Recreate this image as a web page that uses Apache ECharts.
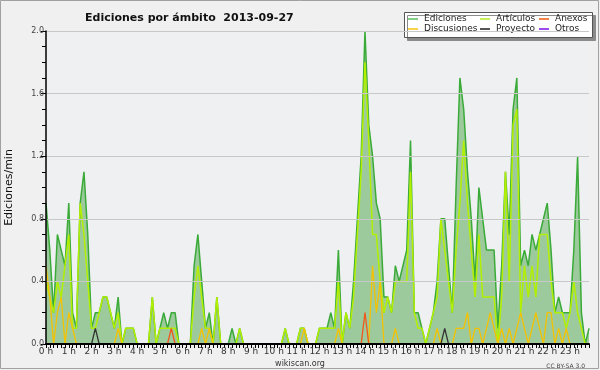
<!DOCTYPE html>
<html>
<head>
<meta charset="utf-8">
<script src="https://cdn.jsdelivr.net/npm/echarts@6/dist/echarts.min.js"></script>
<style>
html,body{margin:0;padding:0;background:#f0f0f0;}
#chart{width:600px;height:370px;}
</style>
</head>
<body>
<div id="chart"></div>
<script>
// ---- data (values per 10-minute slot, edits/min) ----
const hourLabels = ['0 h','1 h','2 h','3 h','4 h','5 h','6 h','7 h','8 h','9 h','10 h','11 h',
  '12 h','13 h','14 h','15 h','16 h','17 h','18 h','19 h','20 h','21 h','22 h','23 h'];
const yTickLabels = ['0.0','0.4','0.8','1.2','1.6','2.0'];

const ediciones = [
 0.9,0.6,0.2,0.7,0.6,0.5, 0.9,0.2,0.1,0.9,1.1,0.7, 0.1,0.2,0.2,0.3,0.3,0.2, 0.1,0.3,0,0.1,0.1,0.1,
 0,0,0,0,0.3,0, 0.1,0.2,0.1,0.2,0.2,0, 0,0,0,0.5,0.7,0.4, 0.1,0.2,0,0.3,0,0,
 0,0.1,0,0.1,0,0, 0,0,0,0,0,0, 0,0,0,0.1,0,0, 0,0.1,0.1,0,0,0,
 0.1,0.1,0.1,0.2,0.1,0.6, 0,0.2,0.1,0.4,0.8,1.2, 2.0,1.4,1.2,0.9,0.8,0.3, 0.3,0.2,0.5,0.4,0.5,0.6,
 1.3,0.2,0.2,0.1,0,0.1, 0.2,0.4,0.8,0.8,0.5,0.2, 1.0,1.7,1.5,1.1,0.8,0.4, 1.0,0.8,0.6,0.6,0.6,0.1,
 0.5,1.1,0.7,1.5,1.7,0.5, 0.6,0.5,0.7,0.6,0.7,0.8, 0.9,0.6,0.2,0.3,0.2,0.2, 0.2,0.6,1.2,0.2,0,0.1
];
const articulos = [
 0.4,0.3,0.2,0.4,0.3,0.5, 0.7,0.1,0.1,0.9,0.7,0.4, 0.1,0.1,0.2,0.3,0.3,0.2, 0.1,0.2,0,0.1,0.1,0.1,
 0,0,0,0,0.3,0, 0.1,0.1,0.1,0.1,0.1,0, 0,0,0,0.3,0.5,0.3, 0.1,0.1,0,0.3,0,0,
 0,0,0,0.1,0,0, 0,0,0,0,0,0, 0,0,0,0.1,0,0, 0,0.1,0.1,0,0,0,
 0.1,0.1,0.1,0.1,0.1,0.4, 0,0.2,0.1,0.3,0.7,1.1, 1.8,1.3,0.7,0.7,0.4,0.2, 0.3,0.2,0.4,0.4,0.4,0.4,
 1.1,0.2,0.1,0.1,0,0.1, 0.2,0.3,0.8,0.6,0.4,0.2, 0.6,0.9,1.3,0.9,0.6,0.3, 0.7,0.3,0.3,0.3,0.3,0,
 0.3,1.1,0.4,1.4,1.5,0.2, 0.5,0.3,0.5,0.3,0.7,0.7, 0.7,0.4,0.2,0.2,0.2,0.1, 0.2,0.4,0.2,0.1,0,0
];
const discusiones = [
 0.5,0.3,0,0.2,0.3,0, 0.2,0.1,0,0,0,0, 0,0,0,0,0,0, 0,0.1,0,0,0,0,
 0,0,0,0,0,0, 0,0,0,0,0,0, 0,0,0,0,0,0.1, 0,0.1,0,0,0,0,
 0,0,0,0,0,0, 0,0,0,0,0,0, 0,0,0,0,0,0, 0,0,0.1,0,0,0,
 0,0,0,0,0,0.1, 0,0,0,0,0,0, 0,0,0.5,0.2,0.4,0, 0,0,0.1,0,0,0,
 0,0,0,0,0,0, 0,0.1,0,0,0,0, 0.1,0.1,0.1,0.2,0,0.1, 0.1,0,0.1,0.2,0.1,0,
 0.1,0,0.1,0,0.1,0.2, 0.1,0,0.1,0.2,0.1,0, 0.2,0.2,0,0.1,0,0.1, 0,0,0,0,0,0
];
const proyecto = [
 0,0,0,0,0,0, 0,0,0,0,0,0, 0,0.1,0,0,0,0, 0,0,0,0,0,0,
 0,0,0,0,0,0, 0,0,0,0,0,0, 0,0,0,0,0,0, 0,0,0,0,0,0,
 0,0,0,0,0,0, 0,0,0,0,0,0, 0,0,0,0,0,0, 0,0,0,0,0,0,
 0,0,0,0,0,0, 0,0,0,0,0,0, 0,0,0,0,0,0, 0,0,0,0,0,0,
 0,0,0,0,0,0, 0,0,0,0.1,0,0, 0,0,0,0,0,0, 0,0,0,0,0,0,
 0,0,0,0,0,0, 0,0,0,0,0,0, 0,0,0,0,0,0, 0,0,0,0,0,0
];
const anexos = [
 0,0,0,0,0,0, 0,0,0,0,0,0, 0,0,0,0,0,0, 0,0,0,0,0,0,
 0,0,0,0,0,0, 0,0,0,0.1,0,0, 0,0,0,0,0,0, 0,0,0,0,0,0,
 0,0,0,0,0,0, 0,0,0,0,0,0, 0,0,0,0,0,0, 0,0,0,0,0,0,
 0,0,0,0,0,0, 0,0,0,0,0,0, 0.2,0,0,0,0,0, 0,0,0,0,0,0,
 0,0,0,0,0,0, 0,0,0,0,0,0, 0,0,0,0,0,0, 0,0,0,0,0,0,
 0,0,0,0,0,0, 0,0,0,0,0,0, 0,0,0,0,0,0, 0,0,0,0,0,0
];
const otros = [
 0,0,0,0,0,0, 0,0,0,0,0,0, 0,0,0,0,0,0, 0,0,0,0,0,0,
 0,0,0,0,0,0, 0,0,0,0,0,0, 0,0,0,0,0,0, 0,0,0,0,0,0,
 0,0,0,0,0,0, 0,0,0,0,0,0, 0,0,0,0,0,0, 0,0,0,0,0,0,
 0,0,0,0,0,0, 0,0,0,0,0,0, 0,0,0,0,0,0, 0,0,0,0,0,0,
 0,0,0,0,0,0, 0,0,0,0,0,0, 0,0,0,0,0,0, 0,0,0,0,0,0,
 0,0,0,0,0,0, 0,0,0,0,0,0, 0,0,0,0,0,0, 0,0,0,0,0,0
];

// category per 10-minute slot
const categories = [];
for (let h = 0; h < 24; h++) for (let m = 0; m < 6; m++) categories.push(h + ':' + m + '0');

const FONT = 'DejaVu Sans';
const chart = echarts.init(document.getElementById('chart'), null, {renderer: 'canvas'});

function lineSeries(name, data, color, width, extra) {
  return Object.assign({
    name: name, type: 'line', data: data, symbol: 'none', smooth: false,
    lineStyle: {color: color, width: width}, itemStyle: {color: color},
    emphasis: {disabled: true}, z: 2
  }, extra || {});
}

const legendCommon = {
  orient: 'vertical', top: 14, itemWidth: 10, itemHeight: 2, itemGap: 0, icon: 'rect',
  textStyle: {fontFamily: FONT, fontSize: 9, color: '#222', lineHeight: 10, padding: [0,0,0,1]},
  padding: 0, selectedMode: false
};

chart.setOption({
  animation: false,
  backgroundColor: '#f0f0f0',
  title: [
    {text: 'Ediciones por ámbito  2013-09-27', left: 80, top: 8,
     textStyle: {fontFamily: FONT, fontSize: 11, fontWeight: 'bold', color: '#111'}},
    {text: 'wikiscan.org', left: 'center', top: 355,
     textStyle: {fontFamily: FONT, fontSize: 8, fontWeight: 'normal', color: '#333'}},
    {text: 'CC BY-SA 3.0', right: 10, top: 358,
     textStyle: {fontFamily: FONT, fontSize: 6, fontWeight: 'normal', color: '#444'}}
  ],
  graphic: [
    {type: 'rect', z: 0, silent: true, shape: {x: 0.5, y: 0.5, width: 598, height: 368},
     style: {fill: 'none', stroke: '#a0a0a0', lineWidth: 1}},
    {type: 'rect', z: 3, silent: true, shape: {x: 404.5, y: 12.5, width: 188, height: 25},
     style: {fill: '#ffffff', stroke: '#555', lineWidth: 1,
             shadowColor: '#8a8a8a', shadowOffsetX: 3, shadowOffsetY: 3, shadowBlur: 0}}
  ],
  legend: [
    Object.assign({}, legendCommon, {left: 408, data: [
      {name: 'Ediciones', itemStyle: {color: '#86cf86'}},
      {name: 'Discusiones', itemStyle: {color: '#f7d24a'}}]}),
    Object.assign({}, legendCommon, {left: 480, data: [
      {name: 'Artículos', itemStyle: {color: '#c6f05a'}},
      {name: 'Proyecto', itemStyle: {color: '#555555'}}]}),
    Object.assign({}, legendCommon, {left: 539, data: [
      {name: 'Anexos', itemStyle: {color: '#f0824a'}},
      {name: 'Otros', itemStyle: {color: '#9a4cf0'}}]})
  ],
  grid: {left: 46, right: 11, top: 31, bottom: 26, show: true, containLabel: false,
         outerBoundsMode: 'none',
         backgroundColor: '#eff0f2', borderWidth: 0},
  xAxis: {
    type: 'category', data: categories, boundaryGap: false, z: 5,
    axisLine: {show: true, lineStyle: {color: '#000', width: 2}},
    axisTick: {show: true, interval: 0, length: 4, lineStyle: {color: '#000', width: 1}},
    axisLabel: {interval: 5, margin: 3, fontFamily: FONT, fontSize: 9, color: '#333',
      formatter: function (v, idx) { return hourLabels[Math.floor(idx / 6)]; }},
    splitLine: {show: false}
  },
  yAxis: {
    type: 'value', min: 0, max: 2, interval: 0.4, z: 5,
    name: 'Ediciones/min', nameLocation: 'middle', nameGap: 31, nameRotate: 90,
    nameTextStyle: {fontFamily: FONT, fontSize: 11, color: '#111'},
    axisLine: {show: true, lineStyle: {color: '#000', width: 1.5}},
    axisTick: {show: true, length: 5, lineStyle: {color: '#000'}},
    minorTick: {show: true, splitNumber: 4, length: 4, lineStyle: {color: '#000'}},
    axisLabel: {margin: 2, fontFamily: FONT, fontSize: 8, color: '#444',
      formatter: function (v) { return yTickLabels[Math.round(v / 0.4)]; }},
    splitLine: {show: true, lineStyle: {color: '#c8c8c8', width: 1}}
  },
  series: [
    lineSeries('Ediciones', ediciones, '#3aab38', 1.5,
      {areaStyle: {color: '#9dca9d', opacity: 1}}),
    lineSeries('Artículos', articulos, '#b2ef00', 1.5),
    lineSeries('Discusiones', discusiones, '#f5c200', 1.3),
    lineSeries('Proyecto', proyecto, '#333333', 1.3),
    lineSeries('Anexos', anexos, '#f0581a', 1.3),
    lineSeries('Otros', otros, '#9a4cf0', 1.3)
  ]
});
</script>
</body>
</html>
